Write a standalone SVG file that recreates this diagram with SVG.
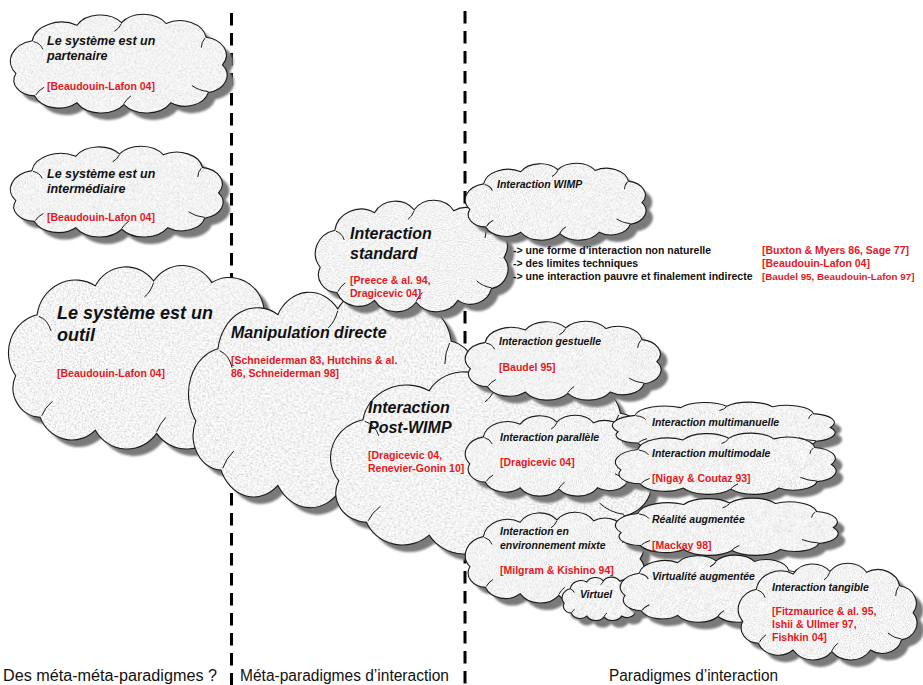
<svg xmlns="http://www.w3.org/2000/svg" xmlns:xlink="http://www.w3.org/1999/xlink" width="923" height="685" viewBox="0 0 923 685">
  <style>
    text { font-family: "Liberation Sans", Arial, sans-serif; fill: #111; }
    .t18 { font-size: 18px; font-weight: bold; font-style: italic; }
    .t16 { font-size: 16px; font-weight: bold; font-style: italic; }
    .t12 { font-size: 12.5px; font-weight: bold; font-style: italic; }
    .t10 { font-size: 10.5px; font-weight: bold; font-style: italic; }
    .ref { font-size: 10.5px; font-weight: bold; fill: #e3191f; }
    .list { font-size: 10.5px; font-weight: bold; }
    .axis { font-size: 16px; }
    .body { fill: url(#granite); stroke: #1a1a1a; }
    .shade { fill: #7a7a7a; stroke: none; }
  </style>
  <defs>
    <!-- speckled stone texture for cloud bodies -->
    <filter id="grain" x="0" y="0" width="1" height="1">
      <feTurbulence type="fractalNoise" baseFrequency="0.9" numOctaves="2" seed="3"/>
      <feColorMatrix type="matrix" values="0.8 0 0 0 0.5  0.8 0 0 0 0.5  0.8 0 0 0 0.5  0 0 0 0 1"/>
    </filter>
    <pattern id="granite" patternUnits="userSpaceOnUse" width="160" height="160">
      <rect width="160" height="160" filter="url(#grain)"/>
    </pattern>
    <filter id="soft" x="-10%" y="-10%" width="120%" height="120%">
      <feGaussianBlur stdDeviation="1.2"/>
    </filter>
    <!-- generic cloud outline, stretched to each node's box -->
    <symbol id="cloud" viewBox="7 3 184 116" preserveAspectRatio="none" overflow="visible">
      <path vector-effect="non-scaling-stroke" stroke-width="1.1" d="M12 72 A24.3 24.3 0 0 1 26 34 A25.2 25.2 0 0 1 64 16 A22.8 22.8 0 0 1 102 13 A22.8 22.8 0 0 1 140 14 A22.6 22.6 0 0 1 174 30 A21 21 0 0 1 188 62 A20.4 20.4 0 0 1 176 94 A20.4 20.4 0 0 1 144 106 A24 24 0 0 1 104 108 A24 24 0 0 1 64 106 A22.2 22.2 0 0 1 28 98 A18.3 18.3 0 0 1 12 72 Z"/>
      <path vector-effect="non-scaling-stroke" stroke-width="1" fill="none" d="M27 35 Q33 37 35 44 M102 14 Q100 20 96 23 M173 31 Q170 36 170 42 M176 93 Q168 92 162 86 M104 107 Q106 102 110 98 M29 97 Q31 92 36 88"/>
    </symbol>
  </defs>

  <rect width="923" height="685" fill="#fff"/>

  <!-- column separators -->
  <g id="dividers" stroke="#000" stroke-width="3" stroke-dasharray="12.5 7.5">
    <line x1="231.5" y1="13" x2="231.5" y2="685"/>
    <line x1="465" y1="11" x2="465" y2="685"/>
  </g>

  <g id="connectors"/>

  <g id="n-partenaire">
    <use href="#cloud" class="shade" filter="url(#soft)" x="17" y="21" width="216" height="100"/>
    <use href="#cloud" class="body" x="10" y="14" width="216" height="100"/>
    <text class="t12" x="47" y="45">Le système est un</text>
    <text class="t12" x="47" y="60">partenaire</text>
    <text class="ref" x="47" y="90">[Beaudouin-Lafon 04]</text>
  </g>

  <g id="n-intermediaire">
    <use href="#cloud" class="shade" filter="url(#soft)" x="17" y="153" width="212" height="92"/>
    <use href="#cloud" class="body" x="10" y="146" width="212" height="92"/>
    <text class="t12" x="47" y="178">Le système est un</text>
    <text class="t12" x="47" y="193">intermédiaire</text>
    <text class="ref" x="47" y="221">[Beaudouin-Lafon 04]</text>
  </g>

  <g id="n-outil">
    <use href="#cloud" class="shade" filter="url(#soft)" x="15" y="272" width="282" height="186"/>
    <use href="#cloud" class="body" x="8" y="265" width="282" height="186"/>
    <text class="t18" x="57" y="319">Le système est un</text>
    <text class="t18" x="57" y="341">outil</text>
    <text class="ref" x="57" y="377">[Beaudouin-Lafon 04]</text>
  </g>

  <g id="n-manipulation">
    <use href="#cloud" class="shade" filter="url(#soft)" x="195" y="297" width="290" height="220"/>
    <use href="#cloud" class="body" x="188" y="290" width="290" height="220"/>
    <text class="t16" x="231" y="338">Manipulation directe</text>
    <text class="ref" x="231" y="364">[Schneiderman 83, Hutchins &amp; al.</text>
    <text class="ref" x="231" y="377">86, Schneiderman 98]</text>
  </g>

  <g id="n-standard">
    <use href="#cloud" class="shade" filter="url(#soft)" x="322" y="207" width="192" height="113"/>
    <use href="#cloud" class="body" x="315" y="200" width="192" height="113"/>
    <text class="t16" x="350" y="239">Interaction</text>
    <text class="t16" x="350" y="259">standard</text>
    <text class="ref" x="350" y="284">[Preece &amp; al. 94,</text>
    <text class="ref" x="350" y="297">Dragicevic 04]</text>
  </g>

  <g id="n-wimp">
    <use href="#cloud" class="shade" filter="url(#soft)" x="472" y="170" width="180" height="78"/>
    <use href="#cloud" class="body" x="465" y="163" width="180" height="78"/>
    <text class="t10" x="497" y="188">Interaction WIMP</text>
  </g>

  <g id="n-postwimp">
    <use href="#cloud" class="shade" filter="url(#soft)" x="337" y="377" width="320" height="186"/>
    <use href="#cloud" class="body" x="330" y="370" width="320" height="186"/>
    <text class="t16" x="368" y="413">Interaction</text>
    <text class="t16" x="368" y="433">Post-WIMP</text>
    <text class="ref" x="368" y="459">[Dragicevic 04,</text>
    <text class="ref" x="368" y="472">Renevier-Gonin 10]</text>
  </g>

  <g id="n-gestuelle">
    <use href="#cloud" class="shade" filter="url(#soft)" x="472" y="328" width="195" height="80"/>
    <use href="#cloud" class="body" x="465" y="321" width="195" height="80"/>
    <text class="t10" x="499" y="345">Interaction gestuelle</text>
    <text class="ref" x="499" y="371">[Baudel 95]</text>
  </g>

  <g id="n-parallele">
    <use href="#cloud" class="shade" filter="url(#soft)" x="472" y="422" width="178" height="82"/>
    <use href="#cloud" class="body" x="465" y="415" width="178" height="82"/>
    <text class="t10" x="500" y="441">Interaction parallèle</text>
    <text class="ref" x="500" y="466">[Dragicevic 04]</text>
  </g>

  <g id="n-multimanuelle">
    <use href="#cloud" class="shade" filter="url(#soft)" x="619" y="409" width="222" height="50"/>
    <use href="#cloud" class="body" x="612" y="402" width="222" height="50"/>
    <text class="t10" x="652" y="426">Interaction multimanuelle</text>
  </g>

  <g id="n-multimodale">
    <use href="#cloud" class="shade" filter="url(#soft)" x="622" y="440" width="220" height="62"/>
    <use href="#cloud" class="body" x="615" y="433" width="220" height="62"/>
    <text class="t10" x="652" y="457">Interaction multimodale</text>
    <text class="ref" x="652" y="482">[Nigay &amp; Coutaz 93]</text>
  </g>

  <g id="n-mixte">
    <use href="#cloud" class="shade" filter="url(#soft)" x="472" y="519" width="178" height="92"/>
    <use href="#cloud" class="body" x="465" y="512" width="178" height="92"/>
    <text class="t10" x="500" y="535">Interaction en</text>
    <text class="t10" x="500" y="549">environnement mixte</text>
    <text class="ref" x="500" y="574">[Milgram &amp; Kishino 94]</text>
  </g>

  <g id="n-realite">
    <use href="#cloud" class="shade" filter="url(#soft)" x="622" y="505" width="222" height="58"/>
    <use href="#cloud" class="body" x="615" y="498" width="222" height="58"/>
    <text class="t10" x="652" y="523">Réalité augmentée</text>
    <text class="ref" x="652" y="549">[Mackay 98]</text>
  </g>

  <g id="n-virtuel">
    <use href="#cloud" class="shade" filter="url(#soft)" x="569" y="584" width="80" height="44"/>
    <use href="#cloud" class="body" x="562" y="577" width="80" height="44"/>
    <text class="t10" x="580" y="598">Virtuel</text>
  </g>

  <g id="n-virtualite">
    <use href="#cloud" class="shade" filter="url(#soft)" x="627" y="562" width="186" height="68"/>
    <use href="#cloud" class="body" x="620" y="555" width="186" height="68"/>
    <text class="t10" x="652" y="580">Virtualité augmentée</text>
  </g>

  <g id="n-tangible">
    <use href="#cloud" class="shade" filter="url(#soft)" x="745" y="570" width="178" height="98"/>
    <use href="#cloud" class="body" x="738" y="563" width="178" height="98"/>
    <text class="t10" x="772" y="591">Interaction tangible</text>
    <text class="ref" x="772" y="615">[Fitzmaurice &amp; al. 95,</text>
    <text class="ref" x="772" y="628">Ishii &amp; Ullmer 97,</text>
    <text class="ref" x="772" y="641">Fishkin 04]</text>
  </g>

  <!-- shortcomings of standard interaction -->
  <g id="limits">
    <text class="list" x="513" y="254">-&gt; une forme d’interaction non naturelle</text>
    <text class="list" x="513" y="267">-&gt; des limites techniques</text>
    <text class="list" x="513" y="280">-&gt; une interaction pauvre et finalement indirecte</text>
    <text class="ref" x="762" y="254">[Buxton &amp; Myers 86, Sage 77]</text>
    <text class="ref" x="762" y="267">[Beaudouin-Lafon 04]</text>
    <text class="ref" x="762" y="280" style="font-size:9.8px">[Baudel 95, Beaudouin-Lafon 97]</text>
  </g>

  <!-- column titles -->
  <g id="columns">
    <text class="axis" x="3" y="681" textLength="214" lengthAdjust="spacingAndGlyphs">Des méta-méta-paradigmes ?</text>
    <text class="axis" x="240" y="681" textLength="209" lengthAdjust="spacingAndGlyphs">Méta-paradigmes d’interaction</text>
    <text class="axis" x="609" y="681" textLength="169" lengthAdjust="spacingAndGlyphs">Paradigmes d’interaction</text>
  </g>
</svg>
